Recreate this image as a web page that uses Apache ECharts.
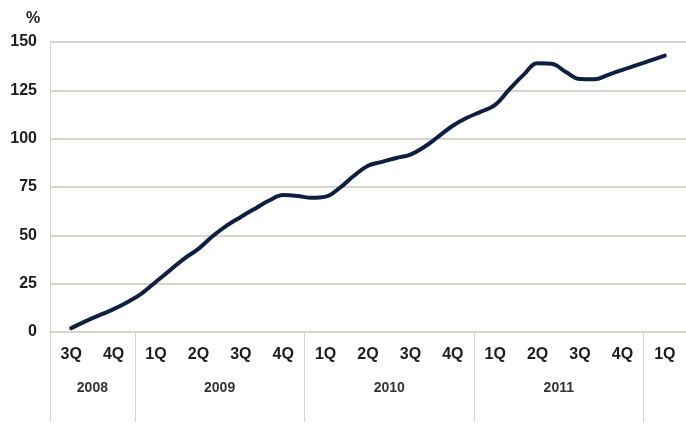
<!DOCTYPE html>
<html>
<head>
<meta charset="utf-8">
<style>
  html, body { margin: 0; padding: 0; background: #ffffff; }
  #chart { width: 686px; height: 428px; }
</style>
<script src="https://cdn.jsdelivr.net/npm/echarts@6/dist/echarts.min.js"></script>
</head>
<body>
<div id="chart"></div>
<script>
// Quarter tick labels, 3Q 2008 through 1Q 2012
const quarterLabels = ['3Q', '4Q', '1Q', '2Q', '3Q', '4Q', '1Q', '2Q', '3Q', '4Q', '1Q', '2Q', '3Q', '4Q', '1Q'];
// Year groups and how many quarters each spans (last group carries no label)
const yearLabels = ['2008', '2009', '2010', '2011', ''];
const yearSpans = [2, 4, 4, 4, 1];
// Monthly readings (%), starting at 3Q 2008, three per quarter
const monthlyValues = [
  2, 5.5, 8.7, 11.8, 15.5, 20, 26, 32, 38, 43,
  49.5, 55, 59.5, 63.8, 68, 70.8, 70.4, 69.4, 70, 74.5,
  80.8, 86, 88, 90, 91.8, 95.8, 101.2, 106.7, 110.8, 114,
  117.5, 125.5, 133, 139, 138.7, 134.5, 130.8, 130.7, 133, 135.6,
  138, 140.5, 143
];
const yTicks = { min: 0, max: 150, step: 25 };

// Position of each monthly reading in quarter units
const seriesData = monthlyValues.map((v, i) => [i / 3, v]);

// Year group boundaries and centres in quarter units (quarter centres at 0,1,2,...)
const yearBounds = [-0.5];
const yearCenters = [];
yearSpans.forEach((s, i) => {
  const start = yearBounds[i];
  yearBounds.push(start + s);
  yearCenters.push(start + s / 2);
});
const labelledCenters = yearCenters.filter((c, i) => yearLabels[i] !== '');
const separatorValues = yearBounds.slice(0, yearBounds.length - 1);

const gridColor = '#d6d6ce';
const textColor = '#1e1e1e';

const chart = echarts.init(document.getElementById('chart'), null, { renderer: 'canvas' });
chart.setOption({
  backgroundColor: '#ffffff',
  animation: false,
  title: {
    text: '%',
    left: 21,
    top: 6,
    textStyle: { fontFamily: 'Liberation Sans', fontWeight: 'bold', fontSize: 16, color: textColor }
  },
  grid: { left: 50, right: -3, top: 42, bottom: 96, containLabel: false },
  xAxis: [
    {
      type: 'category',
      data: quarterLabels,
      boundaryGap: true,
      axisLine: { show: true, onZero: false, lineStyle: { color: gridColor, width: 2 } },
      axisTick: { show: false },
      axisLabel: {
        interval: 0,
        margin: 15,
        fontFamily: 'Liberation Sans',
        fontWeight: 'bold',
        fontSize: 16,
        color: textColor
      },
      splitLine: { show: false }
    },
    {
      type: 'value',
      position: 'bottom',
      min: yearBounds[0],
      max: yearBounds[yearBounds.length - 1],
      axisLine: { show: false, onZero: false },
      splitLine: { show: false },
      axisTick: {
        show: true,
        inside: false,
        length: 90,
        customValues: separatorValues,
        lineStyle: { color: '#d4d4d4', width: 1 }
      },
      axisLabel: {
        show: true,
        margin: 49,
        customValues: labelledCenters,
        formatter: (val) => {
          const idx = yearCenters.findIndex(c => Math.abs(c - val) < 1e-6);
          return idx >= 0 ? yearLabels[idx] : '';
        },
        fontFamily: 'Liberation Sans',
        fontWeight: 'bold',
        fontSize: 14,
        color: '#333333'
      }
    }
  ],
  yAxis: {
    type: 'value',
    min: yTicks.min,
    max: yTicks.max,
    interval: yTicks.step,
    axisLine: { show: true, onZero: false, lineStyle: { color: '#d4d4d4', width: 1 } },
    axisTick: { show: false },
    axisLabel: {
      margin: 13,
      fontFamily: 'Liberation Sans',
      fontWeight: 'bold',
      fontSize: 16,
      color: textColor
    },
    splitLine: { show: true, lineStyle: { color: gridColor, width: 2 } }
  },
  series: [
    {
      type: 'line',
      xAxisIndex: 1,
      data: seriesData,
      smooth: 0.4,
      showSymbol: false,
      lineStyle: { color: '#0f1f40', width: 4, cap: 'round', join: 'round' }
    }
  ]
});
</script>
</body>
</html>
